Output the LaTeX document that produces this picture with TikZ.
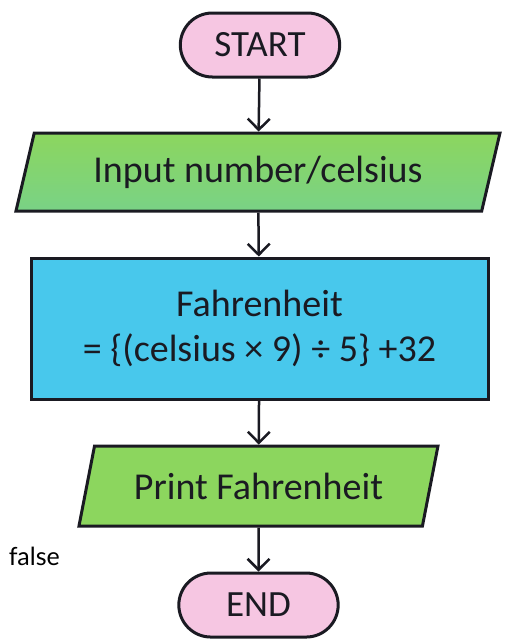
\documentclass[tikz,border=0pt]{standalone}
\usepackage{fontspec}
\setmainfont{Carlito}
\newfontfamily\notefont{Lato}
\usepackage{tikz}
\usetikzlibrary{arrows.meta,positioning,shapes.geometric,shapes.misc}
\definecolor{fcpink}{RGB}{246,198,226}
\definecolor{fcgreen}{RGB}{140,214,94}
\definecolor{fcblue}{RGB}{72,200,236}
\definecolor{fcink}{RGB}{26,26,34}

\begin{document}
\begin{tikzpicture}[
  x=1pt, y=1pt,
  node distance=44pt,
  every node/.style={font=\fontsize{38}{45}\selectfont, text=fcink},
  terminal/.style={rounded rectangle, draw=fcink, line width=3pt, fill=fcpink,
    minimum width=166pt, minimum height=64pt, font=\fontsize{37}{40}\selectfont},
  io/.style={trapezium, trapezium left angle=65, trapezium right angle=115,
    trapezium stretches body=true, draw=fcink, line width=3pt, fill=fcgreen,
    minimum height=78pt},
  process/.style={rectangle, draw=fcink, line width=3pt, fill=fcblue,
    minimum width=457pt, minimum height=141pt, align=center},
  arr/.style={-{Straight Barb[length=11pt,width=22pt]}, draw=fcink, line width=2.5pt},
  note/.style={font=\notefont\fontsize{25}{30}\selectfont, text=black, inner sep=0pt}
]
  \useasboundingbox (0,0) rectangle (508,-641);

  \node[terminal] (start) at (260,-45) {START};
  \node[io, minimum width=484pt, below=53pt of start, xshift=-2pt,
    top color=fcgreen, bottom color=fcgreen!72!fcblue] (input) {Input number/celsius};
  \node[process, below=of input, xshift=1.5pt] (calc) {Fahrenheit\\= \{(celsius × 9) ÷ 5\} +32};
  \node[io, minimum width=359pt, minimum height=80pt, below=of calc, xshift=-1pt] (print) {Print Fahrenheit};
  \node[terminal, below=of print] (end) {END};

  \node[note, anchor=east] (false) at (60,-556) {false};

  \draw[arr] (start) -- (input);
  \draw[arr] (input) -- (calc);
  \draw[arr] (calc) -- (print);
  \draw[arr] (print) -- (end);
\end{tikzpicture}
\end{document}
